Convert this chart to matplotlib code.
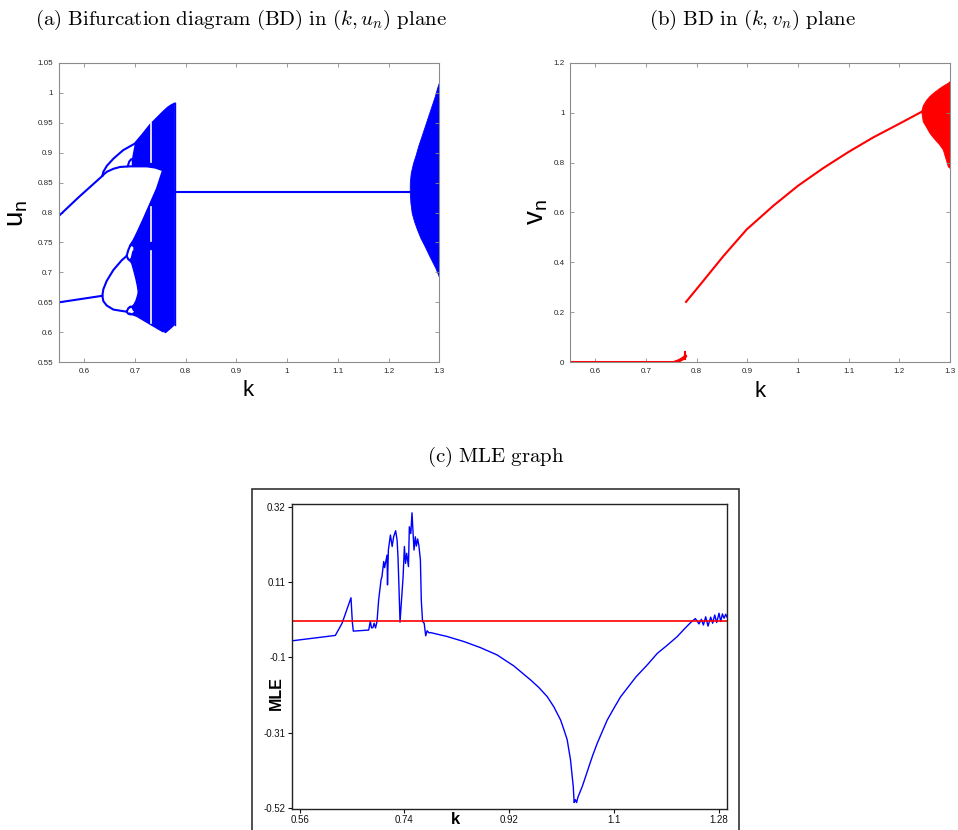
import matplotlib
matplotlib.use('Agg')
import matplotlib.pyplot as plt
from matplotlib.patches import Rectangle

plt.rcParams['mathtext.fontset'] = 'custom'
plt.rcParams['mathtext.rm'] = 'Liberation Sans'
plt.rcParams['mathtext.it'] = 'Liberation Sans:italic'
plt.rcParams['font.family'] = ['Liberation Sans', 'DejaVu Sans']

BLUE = '#0000ff'
RED = '#ff0000'

# ---------------- Panel (a): bifurcation diagram (k, u_n) ----------------
k_up_left = [0.55, 0.59, 0.636]
u_up_left = [0.794, 0.826, 0.861]
k_low_left = [0.55, 0.636]
u_low_left = [0.650, 0.661]
k_top = [0.636, 0.638, 0.645, 0.658, 0.677, 0.700, 0.715, 0.730, 0.743, 0.756, 0.765, 0.772, 0.779]
u_top = [0.861, 0.868, 0.878, 0.890, 0.904, 0.915, 0.930, 0.946, 0.957, 0.968, 0.975, 0.979, 0.982]
k_mid = [0.636, 0.640, 0.645, 0.658, 0.671, 0.690, 0.710, 0.7235, 0.740, 0.754]
u_mid = [0.861, 0.8645, 0.868, 0.873, 0.876, 0.877, 0.877, 0.877, 0.875, 0.871]
k_loop8u = [0.686, 0.689, 0.693, 0.697]
u_loop8u = [0.877, 0.885, 0.889, 0.888]
k_low_arm = [0.636, 0.638, 0.6447, 0.6577, 0.6743, 0.684]
u_low_arm_hi = [0.661, 0.672, 0.686, 0.704, 0.7204, 0.7275]
u_low_arm_lo = [0.661, 0.652, 0.6447, 0.638, 0.6357, 0.6345]
k_band_u = [0.694, 0.697, 0.700, 0.715, 0.730, 0.743, 0.755]
lo_band_u = [0.877, 0.877, 0.877, 0.877, 0.876, 0.875, 0.871]
hi_band_u = [0.888, 0.902, 0.915, 0.930, 0.946, 0.957, 0.967]
k_band_l = [0.690, 0.697, 0.704, 0.717, 0.730, 0.743, 0.755]
lo_band_l = [0.632, 0.629, 0.6267, 0.6202, 0.6137, 0.6072, 0.6013]
hi_band_l = [0.745, 0.754, 0.766, 0.790, 0.815, 0.840, 0.871]
k_band_m = [0.755, 0.7608, 0.770, 0.779]
lo_band_m = [0.6013, 0.5984, 0.605, 0.612]
hi_band_m = [0.967, 0.9715, 0.978, 0.982]
k_hole = [0.684, 0.690, 0.694, 0.698, 0.702, 0.705, 0.707]
hi_hole = [0.7275, 0.720, 0.715, 0.703, 0.690, 0.678, 0.667]
lo_hole = [0.6345, 0.641, 0.643, 0.646, 0.652, 0.660, 0.667]
k_oval1 = [0.684, 0.687, 0.690, 0.694, 0.697]
hi_oval1 = [0.7275, 0.737, 0.743, 0.747, 0.744]
lo_oval1 = [0.7275, 0.722, 0.720, 0.724, 0.735]
k_oval2 = [0.684, 0.687, 0.691, 0.695, 0.698]
hi_oval2 = [0.6345, 0.640, 0.643, 0.642, 0.637]
lo_oval2 = [0.6345, 0.631, 0.630, 0.630, 0.632]
k_window = 0.731
window_segments = [(0.885, 0.949), (0.752, 0.810), (0.615, 0.735)]
k_fixed = [0.779, 1.243]
u_fixed = [0.8335, 0.8335]
k_ns_hi = [1.2428, 1.2428, 1.2447, 1.2493, 1.2546, 1.2592, 1.2658, 1.2724, 1.2789, 1.2855, 1.2921, 1.2967, 1.300]
u_ns_hi = [0.8334, 0.8485, 0.8652, 0.8819, 0.8958, 0.9097, 0.9264, 0.9431, 0.9598, 0.9765, 0.9932, 1.0072, 1.0155]
k_ns_lo = [1.2428, 1.2441, 1.2467, 1.2513, 1.2572, 1.2639, 1.2724, 1.2802, 1.2868, 1.2934, 1.300]
u_ns_lo = [0.8334, 0.8151, 0.7984, 0.7844, 0.7705, 0.7566, 0.7426, 0.7287, 0.7176, 0.7065, 0.6925]

# ---------------- Panel (b): (k, v_n) ----------------
k_v0 = [0.55, 0.757]
v_v0 = [0.0, 0.0]
k_vblob = [0.757, 0.765, 0.772, 0.776, 0.778]
v_vblob = [0.0, 0.006, 0.014, 0.020, 0.025]
k_vspike = [0.7765, 0.7765]
v_vspike = [0.012, 0.040]
k_vcurve = [0.779, 0.8066, 0.8526, 0.8987, 0.9513, 1.0006, 1.05, 1.0993, 1.1487, 1.2013, 1.2441]
v_vcurve = [0.242, 0.310, 0.425, 0.532, 0.627, 0.708, 0.778, 0.842, 0.901, 0.957, 1.0035]
k_vns_hi = [1.2441, 1.2473, 1.254, 1.2605, 1.267, 1.280, 1.2868, 1.2967, 1.300]
v_vns_hi = [1.0035, 1.028, 1.050, 1.065, 1.077, 1.097, 1.106, 1.118, 1.124]
k_vns_lo = [1.2441, 1.2473, 1.254, 1.2605, 1.267, 1.280, 1.2868, 1.2967, 1.300]
v_vns_lo = [1.0035, 0.963, 0.940, 0.917, 0.900, 0.870, 0.850, 0.783, 0.777]

# ---------------- Panel (c): MLE ----------------
k_mle = [0.547, 0.6214, 0.633, 0.6483, 0.6506, 0.6523, 0.6787, 0.6815, 0.6835, 0.686,
         0.688, 0.6905, 0.693, 0.6958, 0.6999, 0.7015, 0.7045, 0.706, 0.7102, 0.711,
         0.7125, 0.716, 0.719, 0.7215, 0.725, 0.7275, 0.729, 0.7305, 0.7325, 0.7378,
         0.740, 0.742, 0.744, 0.747, 0.7485, 0.751, 0.7531, 0.7548, 0.7565, 0.7588,
         0.7605, 0.7628, 0.765, 0.7675, 0.769, 0.7712, 0.774, 0.7766, 0.779, 0.7824,
         0.7847, 0.8134, 0.842, 0.8706, 0.8993, 0.9279, 0.9566, 0.9708, 0.9853, 0.9966,
         1.0082, 1.0138, 1.0196, 1.0224, 1.0253, 1.0276, 1.030, 1.0315,
         1.0335, 1.0357, 1.038, 1.0455, 1.0511, 1.0568, 1.0637, 1.0711, 1.0798, 1.0883,
         1.0998, 1.1113, 1.1256, 1.138, 1.1572, 1.1743, 1.1916, 1.2087, 1.2201,
         1.2316, 1.2397, 1.2459, 1.250, 1.2535, 1.2574, 1.2614, 1.266, 1.2694,
         1.2729, 1.2763, 1.2803, 1.2832, 1.2861, 1.289, 1.2918, 1.2947]
mle = [-0.054, -0.039, -0.005, 0.066, -0.002, -0.027, -0.024, 0.000, -0.018, -0.017,
       -0.005, -0.018, 0.000, 0.060, 0.116, 0.125, 0.167, 0.150, 0.185, 0.102,
       0.199, 0.241, 0.209, 0.236, 0.253, 0.226, 0.180, 0.106, -0.002, 0.125,
       0.209, 0.162, 0.190, 0.153, 0.264, 0.245, 0.303, 0.250, 0.199, 0.236,
       0.210, 0.230, 0.210, 0.171, 0.060, 0.000, -0.005, -0.040, -0.026, -0.032,
       -0.031, -0.042, -0.056, -0.073, -0.0935, -0.124, -0.163, -0.184, -0.2097, -0.238,
       -0.2747, -0.301, -0.330, -0.358, -0.386, -0.423, -0.4606, -0.505,
       -0.497, -0.505, -0.490, -0.460, -0.433, -0.405, -0.372, -0.340, -0.307, -0.275,
       -0.242, -0.210, -0.180, -0.154, -0.121, -0.089, -0.066, -0.042, -0.022,
       -0.003, 0.008, -0.007, 0.006, -0.010, 0.013, -0.013, 0.012, -0.005,
       0.018, -0.003, 0.023, 0.000, 0.021, 0.009, 0.020, 0.010]
mle_ref = 0.0

fig = plt.figure(figsize=(9.58, 8.30), dpi=100)

TICK_COLOR = '#262626'
SPINE_COLOR = '#8c8c8c'


def matlab_style(ax):
    for s in ax.spines.values():
        s.set_color(SPINE_COLOR)
        s.set_linewidth(0.8)
    ax.tick_params(direction='in', length=3, width=0.6, color=SPINE_COLOR,
                   labelsize=5.8, labelcolor=TICK_COLOR, top=True, right=True, pad=4)


# Panel (a)
axA = fig.add_axes([58.7 / 958, 1 - 362.3 / 830, 380.6 / 958, 299.6 / 830])
chaos_k = (k_band_l + k_band_m + k_band_m[::-1] + k_band_u[::-1] + k_band_u + k_band_l[::-1])
chaos_u = (lo_band_l + lo_band_m + hi_band_m[::-1] + hi_band_u[::-1] + lo_band_u + hi_band_l[::-1])
axA.fill(chaos_k, chaos_u, facecolor=BLUE, edgecolor='none', lw=0)
for kk, lo, hi in [(k_hole, lo_hole, hi_hole), (k_oval1, lo_oval1, hi_oval1),
                   (k_oval2, lo_oval2, hi_oval2)]:
    axA.fill_between(kk, lo, hi, facecolor='white', edgecolor='none', lw=0)
lw = 1.5
for kk, uu in [(k_up_left, u_up_left), (k_low_left, u_low_left), (k_top, u_top),
               (k_mid, u_mid), (k_loop8u, u_loop8u), (k_low_arm, u_low_arm_hi),
               (k_low_arm, u_low_arm_lo), (k_oval1, hi_oval1), (k_oval1, lo_oval1),
               (k_oval2, hi_oval2), (k_oval2, lo_oval2)]:
    axA.plot(kk, uu, color=BLUE, lw=lw, solid_capstyle='round')
axA.plot(k_hole[1:], hi_hole[1:], color=BLUE, lw=1.0)
axA.plot(k_hole[1:], lo_hole[1:], color=BLUE, lw=1.0)
axA.plot(k_band_l, hi_band_l, color=BLUE, lw=1.0)
axA.plot(k_band_l, lo_band_l, color=BLUE, lw=1.0)
axA.plot([k_band_m[-1], k_band_m[-1]], [lo_band_m[-1], hi_band_m[-1]], color=BLUE, lw=1.0)
for a, b in window_segments:
    axA.plot([k_window, k_window], [a, b], color='white', lw=1.2)
axA.plot(k_fixed, u_fixed, color=BLUE, lw=1.5)
axA.fill(k_ns_hi + k_ns_lo[::-1], u_ns_hi + u_ns_lo[::-1], facecolor=BLUE,
         edgecolor=BLUE, lw=0.6)
axA.set_xlim(0.55, 1.3)
axA.set_ylim(0.55, 1.05)
xt = [0.6, 0.7, 0.8, 0.9, 1.0, 1.1, 1.2, 1.3]
xtl = ['0.6', '0.7', '0.8', '0.9', '1', '1.1', '1.2', '1.3']
axA.set_xticks(xt)
axA.set_xticklabels(xtl)
yt = [0.55, 0.6, 0.65, 0.7, 0.75, 0.8, 0.85, 0.9, 0.95, 1.0, 1.05]
axA.set_yticks(yt)
axA.set_yticklabels(['0.55', '0.6', '0.65', '0.7', '0.75', '0.8', '0.85', '0.9', '0.95', '1', '1.05'])
matlab_style(axA)

# Panel (b)
axB = fig.add_axes([570 / 958, 1 - 362.3 / 830, 380 / 958, 299.6 / 830])
axB.plot(k_v0, v_v0, color=RED, lw=2.2)
axB.plot(k_vblob, v_vblob, color=RED, lw=2.5, solid_capstyle='round')
axB.plot(k_vspike, v_vspike, color=RED, lw=1.5)
axB.plot(k_vcurve, v_vcurve, color=RED, lw=1.5)
axB.fill(k_vns_hi + k_vns_lo[::-1], v_vns_hi + v_vns_lo[::-1], facecolor=RED,
         edgecolor=RED, lw=0.6)
axB.set_xlim(0.55, 1.3)
axB.set_ylim(0, 1.2)
axB.set_xticks(xt)
axB.set_xticklabels(xtl)
axB.set_yticks([0, 0.2, 0.4, 0.6, 0.8, 1.0, 1.2])
axB.set_yticklabels(['0', '0.2', '0.4', '0.6', '0.8', '1', '1.2'])
matlab_style(axB)

# Axis labels (a), (b)
fig.text(248 / 958, 1 - 390 / 830, 'k', fontsize=16, ha='center', va='center')
fig.text(17 / 958, 1 - 213 / 830, r'$\mathrm{u}_{\mathrm{n}}$', fontsize=20, rotation=90,
         ha='center', va='center', math_fontfamily='custom')
fig.text(760 / 958, 1 - 391 / 830, 'k', fontsize=16, ha='center', va='center')
fig.text(537 / 958, 1 - 212 / 830, r'$\mathrm{v}_{\mathrm{n}}$', fontsize=20, rotation=90,
         ha='center', va='center', math_fontfamily='custom')

# Titles (LaTeX-like)
fig.text(241 / 958, 1 - 20 / 830,
         r'$\mathrm{(a)\ Bifurcation\ diagram\ (BD)\ in\ }(k,u_n)\mathrm{\ plane}$',
         fontsize=15, ha='center', va='center', math_fontfamily='cm')
fig.text(752 / 958, 1 - 20 / 830,
         r'$\mathrm{(b)\ BD\ in\ }(k,v_n)\mathrm{\ plane}$',
         fontsize=15, ha='center', va='center', math_fontfamily='cm')
fig.text(496 / 958, 1 - 456.7 / 830, r'$\mathrm{(c)\ MLE\ graph}$',
         fontsize=15, ha='center', va='center', math_fontfamily='cm')

# Panel (c)
fig.patches.append(Rectangle((252 / 958, -0.01), (739 - 252) / 958, 1 - 489 / 830 + 0.01,
                             transform=fig.transFigure, fill=False, edgecolor='#333333',
                             lw=1.2, zorder=0))
axC = fig.add_axes([292 / 958, 1 - 809 / 830, 435 / 958, 305 / 830])
axC.plot(k_mle, mle, color=BLUE, lw=1.0)
axC.axhline(mle_ref, color=RED, lw=1.2)
axC.set_xlim(0.547, 1.294)
axC.set_ylim(-0.523, 0.3275)
axC.set_xticks([0.56, 0.74, 0.92, 1.1, 1.28])
axC.set_xticklabels(['0.56', '0.74', '0.92', '1.1', '1.28'])
axC.set_yticks([0.32, 0.11, -0.1, -0.31, -0.52])
axC.set_yticklabels(['0.32', '0.11', '-0.1', '-0.31', '-0.52'])
for s in axC.spines.values():
    s.set_color('#222222')
    s.set_linewidth(1.0)
axC.tick_params(direction='out', length=3, width=0.8, labelsize=7, pad=1.5, colors='#111111')
axC.text(0.3747, -0.036, 'k', transform=axC.transAxes, fontsize=12, fontweight='bold',
         ha='center', va='center')
axC.text(-0.035, 0.38, 'MLE', transform=axC.transAxes, fontsize=11.5, fontweight='bold',
         ha='center', va='center', rotation=90)

fig.savefig('out.png', dpi=100)
